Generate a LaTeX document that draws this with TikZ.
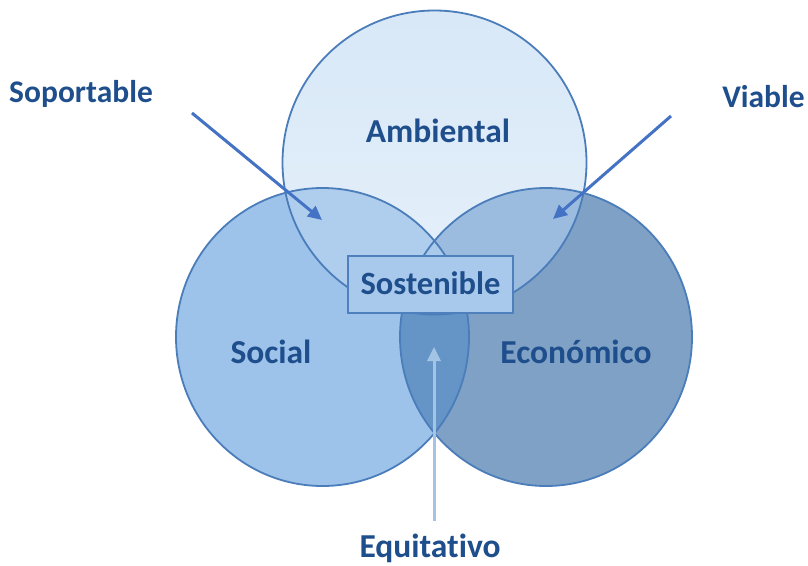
\documentclass[tikz,border=0pt]{standalone}
\usepackage{fontspec}
\setmainfont{Carlito}[Ligatures=NoCommon]
\usetikzlibrary{arrows.meta}
\definecolor{cS}{HTML}{9DC3EA}
\definecolor{cE}{HTML}{7FA1C5}
\definecolor{cAt}{HTML}{D8E8F7}
\definecolor{cAb}{HTML}{E6F1FB}
\definecolor{cSA}{HTML}{AFCEEE}
\definecolor{cEA}{HTML}{9BBCDF}
\definecolor{cSE}{HTML}{6594C7}
\definecolor{cSEA}{HTML}{A9CAEB}
\definecolor{cBox}{HTML}{A8C9EC}
\definecolor{cBoxD}{HTML}{4E80BD}
\definecolor{cOl}{HTML}{4A7DBA}
\definecolor{cTxt}{HTML}{1F4E8C}
\definecolor{cArr}{HTML}{4472C4}
\definecolor{cArrL}{HTML}{A4C4E6}
\begin{document}
\begin{tikzpicture}[x=1pt,y=-1pt,
  lbl/.style={text=cTxt,font=\bfseries\fontsize{33.5}{40}\selectfont,inner sep=0pt,anchor=base},
  lblsmall/.style={lbl,font=\bfseries\fontsize{31.5}{38}\selectfont},
  outline/.style={draw=cOl,line width=1.8pt},
  arr/.style={draw=cArr,line width=3pt,-{Triangle[length=14pt,width=13pt]}},
  arrlight/.style={draw=cArrL,line width=3pt,-{Triangle[length=14pt,width=13pt]}}]
\useasboundingbox (0,0) rectangle (808,565);
\fill[white] (0,0) rectangle (808,565);
\def\pathA{(434.5,162.5) circle [radius=152]}
\def\pathS{(322.5,337) ellipse [x radius=146.5, y radius=149]}
\def\pathE{(546,337) ellipse [x radius=146, y radius=149]}
% region fills
\fill[cS] \pathS;
\fill[cE] \pathE;
\shade[top color=cAt,bottom color=cAb] \pathA;
\begin{scope}\clip \pathS; \fill[cSA] \pathA;\end{scope}
\begin{scope}\clip \pathE; \fill[cEA] \pathA;\end{scope}
\begin{scope}\clip \pathS; \fill[cSE] \pathE;\end{scope}
\begin{scope}\clip \pathS; \clip \pathE; \fill[cSEA] \pathA;\end{scope}
% outlines
\draw[outline] \pathA;
\draw[outline] \pathS;
\draw[outline] \pathE;
% labels
\node[lbl] (amb) at (438,142) {Ambiental};
\node[lbl] (soc) at (271,363) {Social};
\node[lbl] (eco) at (576,363) {Económico};
\node[draw=cBoxD,fill=cBox,line width=2pt,minimum width=165pt,minimum height=57pt,inner sep=0pt] (box) at (430.5,284.5) {};
\node[lbl,font=\bfseries\fontsize{32.5}{39}\selectfont] (sos) at (430.5,294) {Sostenible};
\node[lblsmall] (sop) at (81,102) {Soportable};
\node[lblsmall] (via) at (763.5,107) {Viable};
\node[lbl] (equ) at (430,557) {Equitativo};
% arrows
\coordinate (sopS) at (192,113);
\coordinate (sopE) at (322,220);
\coordinate (viaS) at (671,116);
\coordinate (viaE) at (553,219);
\coordinate (equS) at (434,521);
\coordinate (equE) at (434,347);
\draw[arr] (sopS) -- (sopE);
\draw[arr] (viaS) -- (viaE);
\draw[arrlight] (equS) -- (equE);
\end{tikzpicture}
\end{document}
